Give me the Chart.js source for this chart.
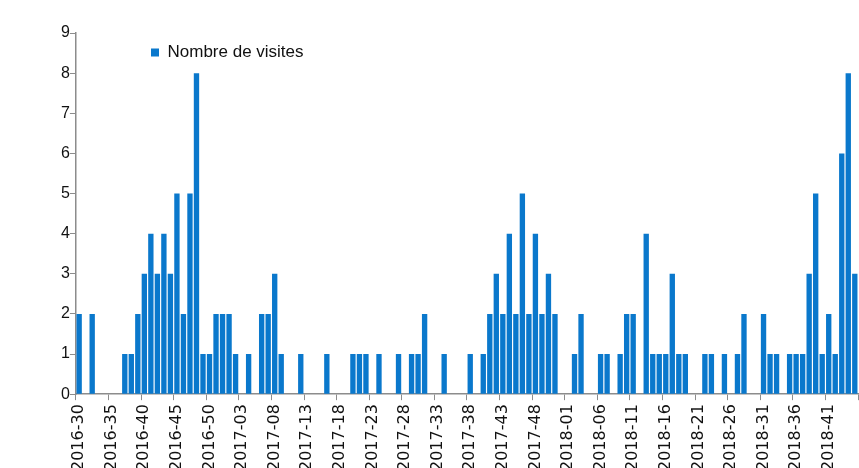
<!DOCTYPE html>
<html>
<head>
<meta charset="utf-8">
<script src="https://cdn.jsdelivr.net/npm/chart.js@4/dist/chart.umd.min.js"></script>
<style>
  html, body { margin: 0; padding: 0; background: #fff; overflow: hidden; }
  #wrap { position: relative; width: 878px; height: 475px; }
</style>
</head>
<body>
<div id="wrap"><canvas id="chart"></canvas></div>
<script>
// semaines (catégories)
const weeks2016 = ['2016-30','2016-31','2016-32','2016-33','2016-34','2016-35','2016-36','2016-37','2016-38','2016-39',
  '2016-40','2016-41','2016-42','2016-43','2016-44','2016-45','2016-46','2016-47','2016-48','2016-49',
  '2016-50','2016-51','2016-52'];
const weeks2017 = ['2017-01','2017-02','2017-03','2017-04','2017-05','2017-06','2017-07','2017-08','2017-09','2017-10',
  '2017-11','2017-12','2017-13','2017-14','2017-15','2017-16','2017-17','2017-18','2017-19','2017-20',
  '2017-21','2017-22','2017-23','2017-24','2017-25','2017-26','2017-27','2017-28','2017-29','2017-30',
  '2017-31','2017-32','2017-33','2017-34','2017-35','2017-36','2017-37','2017-38','2017-39','2017-40',
  '2017-41','2017-42','2017-43','2017-44','2017-45','2017-46','2017-47','2017-48','2017-49','2017-50',
  '2017-51','2017-52'];
const weeks2018 = ['2018-01','2018-02','2018-03','2018-04','2018-05','2018-06','2018-07','2018-08','2018-09','2018-10',
  '2018-11','2018-12','2018-13','2018-14','2018-15','2018-16','2018-17','2018-18','2018-19','2018-20',
  '2018-21','2018-22','2018-23','2018-24','2018-25','2018-26','2018-27','2018-28','2018-29','2018-30',
  '2018-31','2018-32','2018-33','2018-34','2018-35','2018-36','2018-37','2018-38','2018-39','2018-40',
  '2018-41','2018-42','2018-43','2018-44','2018-45'];
const weeks = weeks2016.concat(weeks2017, weeks2018);

// nombre de visites par semaine
const visites = [
  2, 0, 2, 0, 0, 0, 0, 1, 1, 2,
  3, 4, 3, 4, 3, 5, 2, 5, 8, 1,
  1, 2, 2, 2, 1, 0, 1, 0, 2, 2,
  3, 1, 0, 0, 1, 0, 0, 0, 1, 0,
  0, 0, 1, 1, 1, 0, 1, 0, 0, 1,
  0, 1, 1, 2, 0, 0, 1, 0, 0, 0,
  1, 0, 1, 2, 3, 2, 4, 2, 5, 2,
  4, 2, 3, 2, 0, 0, 1, 2, 0, 0,
  1, 1, 0, 1, 2, 2, 0, 4, 1, 1,
  1, 3, 1, 1, 0, 0, 1, 1, 0, 1,
  0, 1, 2, 0, 0, 2, 1, 1, 0, 1,
  1, 1, 3, 5, 1, 2, 1, 6, 8, 3
];

const yTicks = [0, 1, 2, 3, 4, 5, 6, 7, 8, 9];
const labelStep = 5;

const axisGrey = '#8c8c8c';
const barBlue = '#0a78cc';

// place la légende dans la zone du graphique
const legendSpot = {
  id: 'legendSpot',
  afterLayout(chart) {
    const lg = chart.legend;
    const pad = lg.options.labels.padding;
    const w = lg.width, h = lg.height;
    lg.left = 151 - pad;
    lg.top = 44 - pad;
    lg.right = lg.left + w;
    lg.bottom = lg.top + h;
  }
};

new Chart(document.getElementById('chart'), {
  type: 'bar',
  data: {
    labels: weeks,
    datasets: [{
      label: 'Nombre de visites',
      data: visites,
      backgroundColor: barBlue,
      borderWidth: 0,
      barPercentage: 0.82,
      categoryPercentage: 1
    }]
  },
  options: {
    responsive: true,
    maintainAspectRatio: false,
    animation: false,
    layout: { padding: { left: 61, right: 2, top: 33, bottom: 0 } },
    plugins: {
      tooltip: { enabled: false },
      legend: {
        position: 'chartArea',
        align: 'start',
        labels: {
          boxWidth: 8,
          boxHeight: 8,
          padding: 0,
          color: '#111',
          font: { family: 'Liberation Sans, Arial, sans-serif', size: 17 }
        }
      }
    },
    scales: {
      x: {
        offset: true,
        grid: {
          offset: true,
          drawOnChartArea: false,
          drawTicks: true,
          tickLength: 6,
          color: ctx => (ctx.index === undefined || ctx.index % labelStep === 0) ? axisGrey : 'rgba(0,0,0,0)'
        },
        border: { color: axisGrey, width: 1.5 },
        ticks: {
          autoSkip: false,
          maxRotation: 90,
          minRotation: 90,
          padding: 4,
          color: '#111',
          font: { family: 'DejaVu Sans', size: 16 },
          callback: function (val, i) { return i % labelStep === 0 ? this.getLabelForValue(val) : ''; }
        }
      },
      y: {
        min: yTicks[0],
        max: yTicks[yTicks.length - 1],
        grid: {
          drawOnChartArea: false,
          drawTicks: true,
          tickLength: 6,
          color: axisGrey
        },
        border: { color: axisGrey, width: 1.5 },
        afterBuildTicks: axis => { axis.ticks = yTicks.map(v => ({ value: v })); },
        ticks: {
          padding: 0,
          color: '#111',
          font: { family: 'Liberation Sans, Arial, sans-serif', size: 16 }
        }
      }
    }
  },
  plugins: [legendSpot]
});
</script>
</body>
</html>
